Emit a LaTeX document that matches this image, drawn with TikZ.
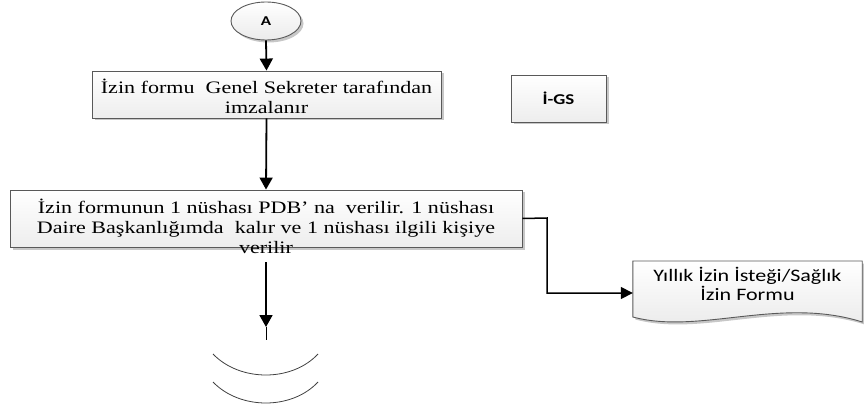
\documentclass[tikz,border=0pt]{standalone}
\usepackage{fontspec}
\setmainfont{Liberation Serif}[FakeStretch=1.26]
\newfontfamily\calf{Carlito}[FakeStretch=1.26]
\usetikzlibrary{arrows.meta,shapes.geometric,shadows}
\tikzset{
  shd/.style={drop shadow={shadow xshift=2.5pt,shadow yshift=-2.5pt,fill=black!22,opacity=1}},
  procbox/.style={rectangle,draw=black!65,line width=0.9pt,top color=white,bottom color=black!7,shd,inner sep=0pt},
  flow/.style={line width=1.8pt,-{Triangle[length=12pt,width=13pt]}},
  flowthin/.style={line width=1.5pt,-{Triangle[length=12pt,width=12pt]}},
  serif/.style={font=\fontsize{17.5}{20}\selectfont,align=center,inner sep=0pt},
  arcline/.style={draw=black!75,line width=0.8pt},
}
\begin{document}
\begin{tikzpicture}[x=1pt,y=-1pt]
\useasboundingbox (0,0) rectangle (864,414);
% start ellipse
\node[ellipse,draw=black!65,line width=0.9pt,top color=white,bottom color=black!8,shd,minimum width=70pt,minimum height=38pt,inner sep=0pt,font=\calf\bfseries\fontsize{13.5}{15}\selectfont] (A) at (266,21) {A};
% box 1
\node[procbox,minimum width=349pt,minimum height=47pt] (b1) at (266.5,94.5) {};
\node[serif] (b1t) at (266.5,96) {İzin formu\ \ Genel Sekreter tarafından\\imzalanır};
% IGS
\node[procbox,minimum width=95pt,minimum height=47pt,font=\calf\bfseries\fontsize{15}{17}\selectfont] (igs) at (558.5,98.5) {İ-GS};
% box 2
\node[procbox,minimum width=512pt,minimum height=57pt] (b2) at (266,218.5) {};
\node[serif] (b2t) at (266,226) {İzin formunun 1 nüshası PDB’ na\ \ verilir. 1 nüshası\\Daire Başkanlığımda\ \ kalır ve 1 nüshası ilgili kişiye\\verilir};
% document shape
\node[minimum width=229pt,minimum height=64pt,inner sep=0pt] (doc) at (747.5,293) {};
\path[draw=black!65,line width=0.9pt,top color=white,bottom color=black!9,shd]
  (doc.west |- 0,261) -- (doc.east |- 0,261) -- (doc.east |- 0,322)
  .. controls (780,296) and (700,335) .. (doc.west |- 0,317) -- cycle;
\node[font=\calf\fontsize{17.5}{19}\selectfont,align=center,inner sep=0pt] (doct) at (747.5,284) {Yıllık İzin İsteği/Sağlık\\İzin Formu};
% connectors
\draw[flow] (A.south) -- (b1.north);
\draw[flow] (b1.south) -- (b2.north);
\coordinate (c1) at (547,218);
\draw[flowthin] (b2.east) -- (c1) |- (doc.west);
\coordinate (d0) at (266,262);
\coordinate (d1) at (266,327);
\coordinate (d2) at (266,340);
\draw[flow] (d0) -- (d1);
\draw[line width=0.8pt] (d1) -- (d2);
% arcs
\coordinate (a1l) at (213,354);
\coordinate (a1r) at (318,354);
\coordinate (a2l) at (213,382);
\coordinate (a2r) at (318,382);
\draw[arcline] (a1l) .. controls (240,382) and (292,382) .. (a1r);
\draw[arcline] (a2l) .. controls (240,410) and (292,410) .. (a2r);
\end{tikzpicture}
\end{document}
